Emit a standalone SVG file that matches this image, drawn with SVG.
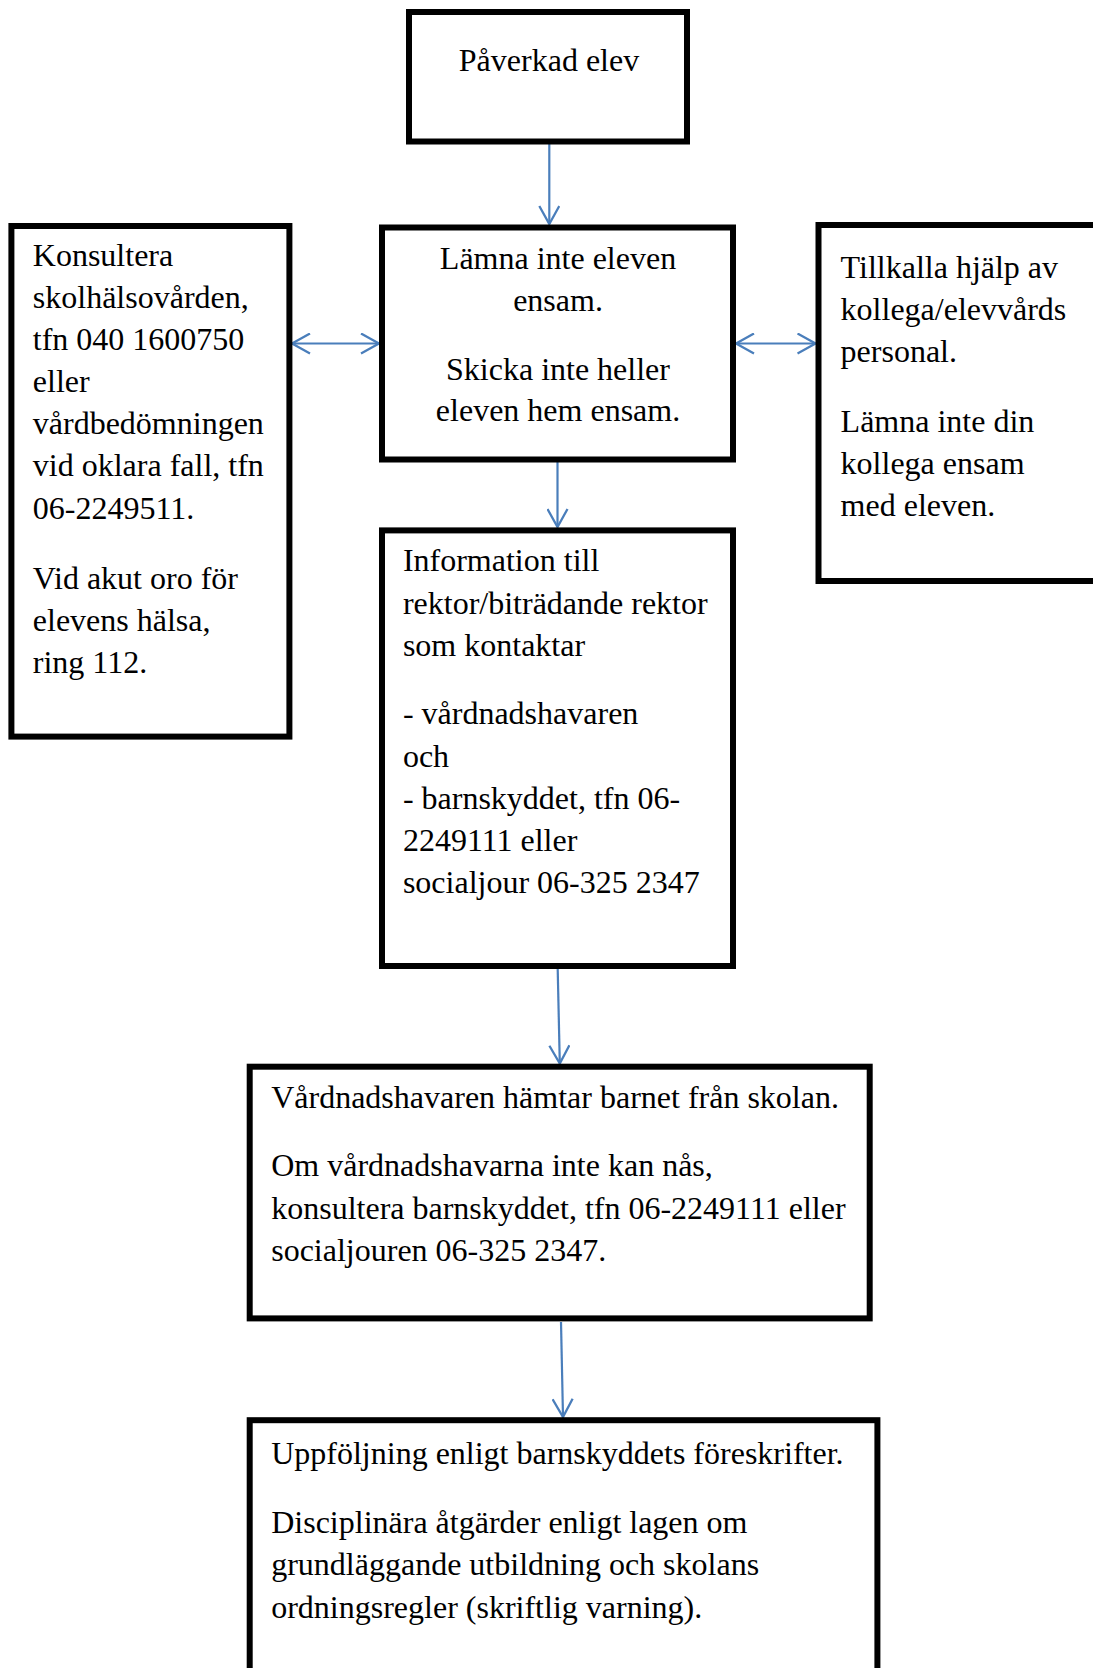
<svg xmlns="http://www.w3.org/2000/svg" width="1093" height="1668" viewBox="0 0 1093 1668">
<style>
.box{fill:#fff;stroke:#000;stroke-width:6}
.t{font-family:"Liberation Serif","Times New Roman",serif;font-size:32px;fill:#000}
.c{text-anchor:middle}
.con{fill:none;stroke:#4a7ebb;stroke-width:2.2}
</style>
<defs>
<marker id="ah" viewBox="0 0 20 22" refX="19" refY="11" markerWidth="20" markerHeight="22" markerUnits="userSpaceOnUse" orient="auto-start-reverse">
<path d="M1,1 L19,11 L1,21" fill="none" stroke="#4a7ebb" stroke-width="2.3"/>
</marker>
</defs>
<rect width="1093" height="1668" fill="#fff"/>
<g id="connectors">
<path class="con" d="M549.3,144 L549.3,224" marker-end="url(#ah)"/>
<path class="con" d="M557.5,462 L557.5,527" marker-end="url(#ah)"/>
<path class="con" d="M292,343.5 L379,343.5" marker-start="url(#ah)" marker-end="url(#ah)"/>
<path class="con" d="M736,343.5 L815.5,343.5" marker-start="url(#ah)" marker-end="url(#ah)"/>
<path class="con" d="M557.7,969 L559.8,1063.5" marker-end="url(#ah)"/>
<path class="con" d="M561,1322 L563,1417" marker-end="url(#ah)"/>
</g>
<g id="n1">
<rect class="box" x="409" y="12" width="278" height="129.5"/>
<text class="t c" x="549" y="71">Påverkad elev</text>
</g>
<g id="n2">
<rect class="box" x="382" y="227.5" width="351" height="232"/>
<text class="t c" x="558" y="268.6">Lämna inte eleven</text>
<text class="t c" x="558" y="310.5">ensam.</text>
<text class="t c" x="558" y="379.6">Skicka inte heller</text>
<text class="t c" x="558" y="421.4">eleven hem ensam.</text>
</g>
<g id="n3">
<rect class="box" x="11.4" y="226" width="278" height="510.6"/>
<text class="t" x="32.8" y="266">Konsultera</text>
<text class="t" x="32.8" y="308">skolhälsovården,</text>
<text class="t" x="32.8" y="350">tfn 040 1600750</text>
<text class="t" x="32.8" y="392">eller</text>
<text class="t" x="32.8" y="434">vårdbedömningen</text>
<text class="t" x="32.8" y="476">vid oklara fall, tfn</text>
<text class="t" x="32.8" y="519">06-2249511.</text>
<text class="t" x="32.8" y="588.6">Vid akut oro för</text>
<text class="t" x="32.8" y="630.5">elevens hälsa,</text>
<text class="t" x="32.8" y="672.5">ring 112.</text>
</g>
<g id="n4">
<rect class="box" x="818.5" y="225" width="300" height="356"/>
<text class="t" x="840.6" y="278">Tillkalla hjälp av</text>
<text class="t" x="840.6" y="320">kollega/elevvårds</text>
<text class="t" x="840.6" y="362">personal.</text>
<text class="t" x="840.6" y="432">Lämna inte din</text>
<text class="t" x="840.6" y="474">kollega ensam</text>
<text class="t" x="840.6" y="516">med eleven.</text>
</g>
<g id="n5">
<rect class="box" x="382" y="530.4" width="351" height="435.6"/>
<text class="t" x="402.9" y="571.4">Information till</text>
<text class="t" x="402.9" y="613.6">rektor/biträdande rektor</text>
<text class="t" x="402.9" y="655.7">som kontaktar</text>
<text class="t" x="402.9" y="724.3">- vårdnadshavaren</text>
<text class="t" x="402.9" y="767">och</text>
<text class="t" x="402.9" y="809">- barnskyddet, tfn 06-</text>
<text class="t" x="402.9" y="851">2249111 eller</text>
<text class="t" x="402.9" y="893">socialjour 06-325 2347</text>
</g>
<g id="n6">
<rect class="box" x="249.7" y="1066.7" width="620" height="251.7"/>
<text class="t" x="271.2" y="1108">Vårdnadshavaren hämtar barnet från skolan.</text>
<text class="t" x="271.2" y="1176">Om vårdnadshavarna inte kan nås,</text>
<text class="t" x="271.2" y="1218.7">konsultera barnskyddet, tfn 06-2249111 eller</text>
<text class="t" x="271.2" y="1261">socialjouren 06-325 2347.</text>
</g>
<g id="n7">
<rect class="box" x="249.7" y="1420.2" width="627.7" height="300"/>
<text class="t" x="271.2" y="1464">Uppföljning enligt barnskyddets föreskrifter.</text>
<text class="t" x="271.2" y="1533">Disciplinära åtgärder enligt lagen om</text>
<text class="t" x="271.2" y="1575.4">grundläggande utbildning och skolans</text>
<text class="t" x="271.2" y="1617.6">ordningsregler (skriftlig varning).</text>
</g>
</svg>
